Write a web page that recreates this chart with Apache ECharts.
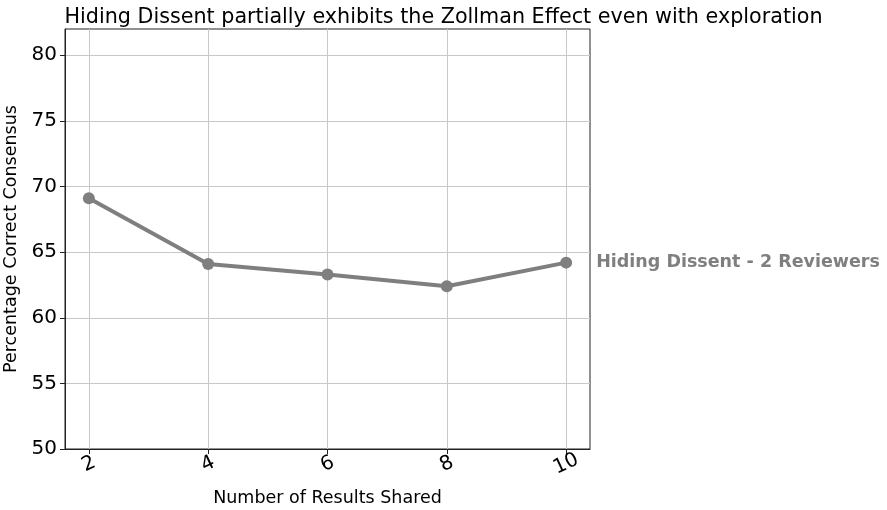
<!DOCTYPE html>
<html>
<head>
<meta charset="utf-8">
<script src="https://cdn.jsdelivr.net/npm/echarts@6/dist/echarts.min.js"></script>
<style>
  html, body { margin: 0; padding: 0; background: #fff; }
  #chart { width: 887px; height: 510px; }
</style>
</head>
<body>
<div id="chart"></div>
<script>
var resultsShared = [2, 4, 6, 8, 10]
var correctConsensus = [69.1, 64.1, 63.3, 62.4, 64.2]
var xTicks = [2, 4, 6, 8, 10]
var yTicks = [50, 55, 60, 65, 70, 75, 80]
var seriesName = 'Hiding Dissent - 2 Reviewers'

var font = 'DejaVu Sans'
var myChart = echarts.init(document.getElementById('chart'))
myChart.setOption({
  animation: false,
  title: {
    text: 'Hiding Dissent partially exhibits the Zollman Effect even with exploration',
    left: 'center',
    top: 2,
    textStyle: { fontFamily: font, fontSize: 20.7, fontWeight: 'normal', color: '#000' }
  },
  grid: {
    left: 65, right: 297, top: 29, bottom: 61,
    outerBoundsMode: 'none',
    containLabel: false,
    show: true, borderColor: '#222', borderWidth: 1
  },
  xAxis: {
    type: 'value',
    min: 1.6,
    max: 10.4,
    name: 'Number of Results Shared',
    nameLocation: 'middle',
    nameGap: 40,
    nameTextStyle: { fontFamily: font, fontSize: 17.5, color: '#000' },
    axisLine: { show: true, onZero: false, lineStyle: { color: '#222' } },
    axisTick: { show: true, customValues: xTicks, length: 5, lineStyle: { color: '#222' } },
    axisLabel: {
      customValues: xTicks, rotate: 25, margin: 15,
      align: 'center', verticalAlign: 'middle',
      fontFamily: font, fontSize: 20, color: '#000'
    },
    splitLine: { show: true, lineStyle: { color: '#c8c8c8', width: 1 } }
  },
  yAxis: {
    type: 'value',
    min: 50,
    max: 82,
    name: 'Percentage Correct Consensus',
    nameLocation: 'middle',
    nameGap: 44,
    nameTextStyle: { fontFamily: font, fontSize: 17.5, color: '#000' },
    axisLine: { show: true, lineStyle: { color: '#222' } },
    axisTick: { show: true, customValues: yTicks, length: 5, lineStyle: { color: '#222' } },
    axisLabel: {
      customValues: yTicks, margin: 8,
      fontFamily: font, fontSize: 20, color: '#000'
    },
    splitLine: { show: true, lineStyle: { color: '#c8c8c8', width: 1 } }
  },
  series: [{
    name: seriesName,
    type: 'line',
    data: resultsShared.map(function (x, i) { return [x, correctConsensus[i]] }),
    symbol: 'circle',
    symbolSize: 12,
    lineStyle: { color: '#7f7f7f', width: 4 },
    itemStyle: { color: '#7f7f7f' },
    endLabel: {
      show: true,
      formatter: seriesName,
      distance: 30,
      fontFamily: font,
      fontSize: 17.5,
      fontWeight: 'bold',
      color: '#7f7f7f'
    }
  }]
})
</script>
</body>
</html>
